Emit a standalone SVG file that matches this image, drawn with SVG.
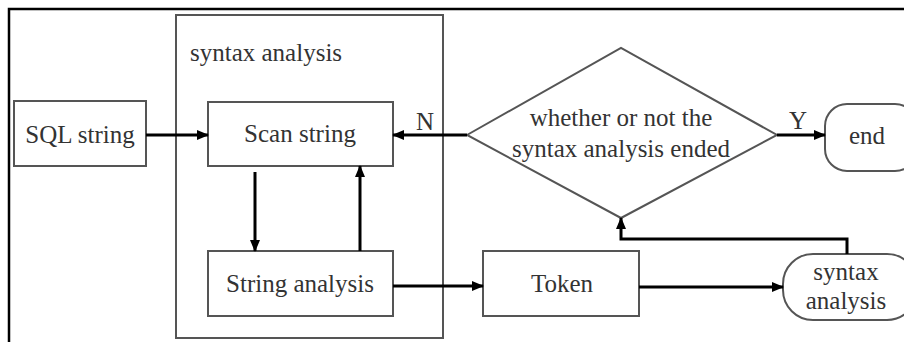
<svg xmlns="http://www.w3.org/2000/svg" width="904" height="342" viewBox="0 0 904 342">
<style>
.box{fill:#fff;stroke:#555;stroke-width:2}
.t{font-family:"Liberation Serif","Times New Roman",serif;font-size:25px;fill:#333;text-anchor:middle}
.tl{font-family:"Liberation Serif","Times New Roman",serif;font-size:25px;fill:#333}
.c{fill:none;stroke:#000;stroke-width:3}
</style>
<defs>
<marker id="ah" markerWidth="12" markerHeight="10" refX="11" refY="5" orient="auto" markerUnits="userSpaceOnUse">
<path d="M0,0 L12,5 L0,10 Z" fill="#000"/>
</marker>
</defs>
<rect width="904" height="342" fill="#fff"/>
<path d="M9,342 V9 H904" fill="none" stroke="#000" stroke-width="2.5"/>
<g id="syntax-analysis-frame">
<rect class="box" x="176" y="15" width="267" height="323"/>
<text class="tl" x="190" y="61">syntax analysis</text>
</g>
<g id="sql-string">
<rect class="box" x="14" y="101" width="132" height="65"/>
<text class="t" x="80" y="143">SQL string</text>
</g>
<g id="scan-string">
<rect class="box" x="208" y="102" width="185" height="64"/>
<text class="t" x="300" y="142">Scan string</text>
</g>
<g id="string-analysis">
<rect class="box" x="208" y="251" width="185" height="65"/>
<text class="t" x="300" y="292">String analysis</text>
</g>
<g id="decision">
<polygon class="box" points="467,135 621,48 777,135 621,218"/>
<text class="t" x="621" y="126">whether or not the</text>
<text class="t" x="621" y="157">syntax analysis ended</text>
</g>
<g id="end">
<rect class="box" x="825" y="104" width="92" height="67" rx="22" ry="22"/>
<text class="t" x="867" y="144">end</text>
</g>
<g id="token">
<rect class="box" x="483" y="251" width="156" height="65"/>
<text class="t" x="562" y="292">Token</text>
</g>
<g id="syntax-analysis-node">
<rect class="box" x="783" y="254" width="134" height="66" rx="30" ry="30"/>
<text class="t" x="846" y="280">syntax</text>
<text class="t" x="846" y="309">analysis</text>
</g>
<g id="connectors">
<line class="c" x1="146" y1="135" x2="208" y2="135" marker-end="url(#ah)"/>
<line class="c" x1="255" y1="172" x2="255" y2="251" marker-end="url(#ah)"/>
<line class="c" x1="360" y1="251" x2="360" y2="166" marker-end="url(#ah)"/>
<line class="c" x1="467" y1="135" x2="393" y2="135" marker-end="url(#ah)"/>
<text class="tl" x="416" y="130">N</text>
<line class="c" x1="777" y1="135" x2="825" y2="135" marker-end="url(#ah)"/>
<text class="tl" x="789" y="129">Y</text>
<line class="c" x1="393" y1="286" x2="483" y2="286" marker-end="url(#ah)"/>
<line class="c" x1="639" y1="287" x2="783" y2="287" marker-end="url(#ah)"/>
<polyline class="c" points="847,254 847,239 621,239 621,218" marker-end="url(#ah)"/>
</g>
</svg>
